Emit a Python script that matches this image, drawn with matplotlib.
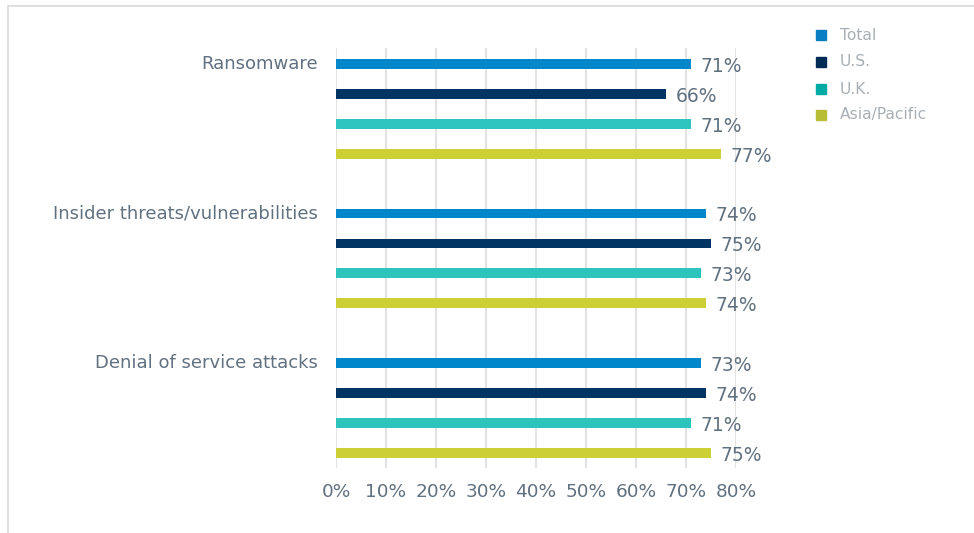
import matplotlib
matplotlib.use("Agg")
import matplotlib.pyplot as plt
from matplotlib.patches import Rectangle
import numpy as np

categories = ["Ransomware", "Insider threats/vulnerabilities", "Denial of service attacks"]
series_names = ["Total", "U.S.", "U.K.", "Asia/Pacific"]
total = [71, 74, 73]
us = [66, 75, 74]
uk = [71, 73, 71]
asia_pacific = [77, 74, 75]
tick_labels = ["0%", "10%", "20%", "30%", "40%", "50%", "60%", "70%", "80%"]

series_values = [total, us, uk, asia_pacific]
bar_colors = ["#0086CB", "#003462", "#2EC4BE", "#CDD035"]
legend_colors = ["#0A7EC2", "#002B55", "#00ABA4", "#B7BE36"]
text_color = "#617180"

W, H = 974, 533
fig = plt.figure(figsize=(W / 100, H / 100), dpi=100)

# light frame around the chart area
frame = Rectangle((8 / W, -0.1), 1.2, 1 - 6 / H + 0.1, transform=fig.transFigure,
                  fill=False, edgecolor="#D9D9D9", linewidth=1.2)
fig.patches.append(frame)

ax = fig.add_axes([336 / W, 1 - 468 / H, 400 / W, 420 / H])

group_step = len(series_names) + 1
for s, (name, vals) in enumerate(zip(series_names, series_values)):
    ys = np.arange(len(categories)) * group_step + s
    ax.barh(ys, vals, height=0.33, color=bar_colors[s], zorder=3)
    for y, v in zip(ys, vals):
        ax.text(v + 1.9, y + 0.08, f"{v}%", va="center", ha="left",
                fontsize=13.5, color=text_color)

# category labels sit to the left of each group's first bar
for i, cat in enumerate(categories):
    ax.text(-18 / 400, i * group_step, cat, transform=ax.get_yaxis_transform(),
            ha="right", va="center", fontsize=13.0, color=text_color)

ax.set_xlim(0, 80)
ax.set_ylim(13.5, -0.53)
ax.set_xticks(np.arange(0, 81, 10))
ax.set_xticklabels(tick_labels, fontsize=13.3, color=text_color)
ax.set_yticks([])
ax.tick_params(axis="x", length=0, pad=11)
ax.grid(axis="x", color="#E3E3E3", linewidth=1.5, zorder=0)
for sp in ax.spines.values():
    sp.set_visible(False)

# legend
leg_y = [35, 62, 89, 115]
for name, c, y in zip(series_names, legend_colors, leg_y):
    fig.patches.append(Rectangle((816 / W, 1 - (y + 5) / H), 10 / W, 10 / H,
                                 transform=fig.transFigure, color=c))
    fig.text(840 / W, 1 - y / H, name, fontsize=11.2, color="#A8AFB5",
             ha="left", va="center")

fig.savefig("out.png", dpi=100)
